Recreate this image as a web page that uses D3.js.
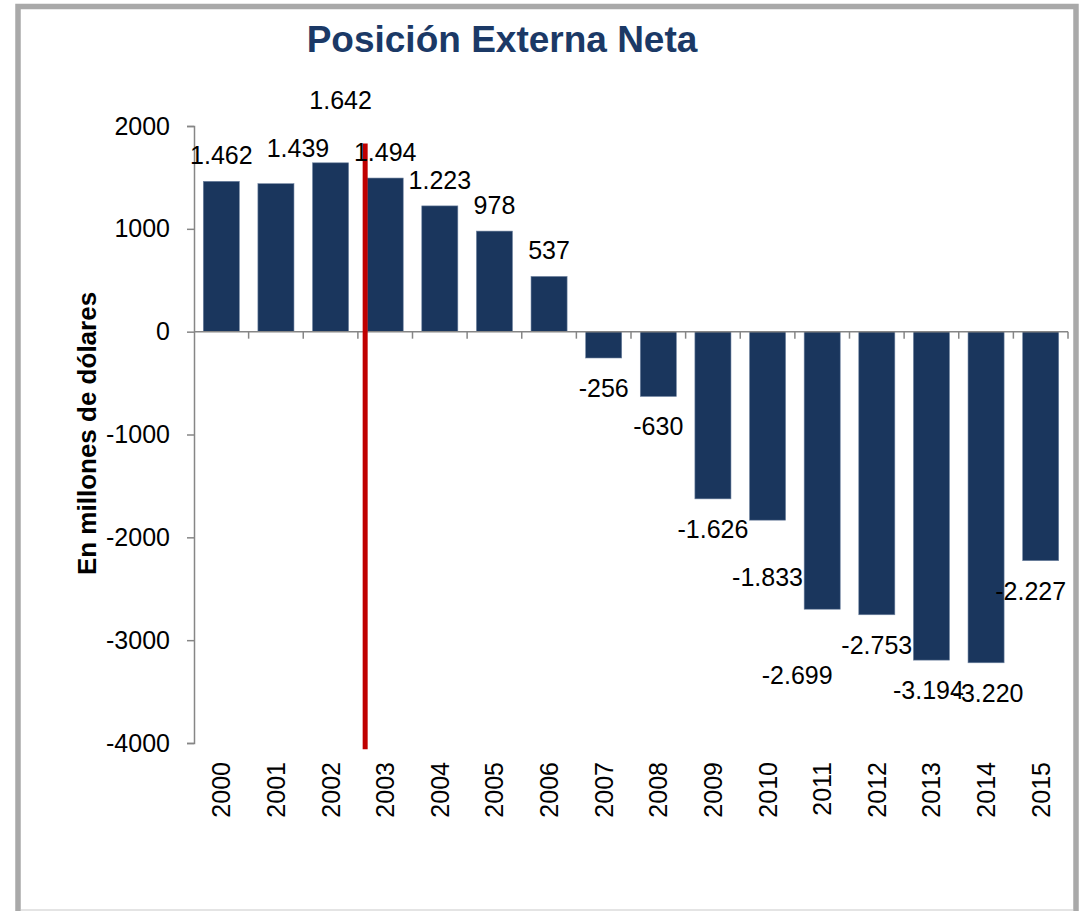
<!DOCTYPE html>
<html>
<head>
<meta charset="utf-8">
<script src="https://cdn.jsdelivr.net/npm/d3@7"></script>
<style>
  html, body { margin: 0; padding: 0; background: #fff; }
  text { font-family: "Liberation Sans", Arial, sans-serif; }
</style>
</head>
<body>
<div id="chart"></div>
<script>
// chart data
const years = ['2000', '2001', '2002', '2003', '2004', '2005', '2006', '2007',
  '2008', '2009', '2010', '2011', '2012', '2013', '2014', '2015'];
const values = [1462, 1439, 1642, 1494, 1223, 978, 537, -256,
  -630, -1626, -1833, -2699, -2753, -3194, -3220, -2227];
const yTicks = [2000, 1000, 0, -1000, -2000, -3000, -4000];

// labels that were dragged by hand in the original, [dx, dy] in px
const labelNudge = {
  '2001': [22, -10], '2002': [10, -37], '2010': [0, 27],
  '2011': [-25, 36], '2013': [-3, 0], '2014': [2, 0], '2015': [-10, 0]
};

const width = 1084, height = 911;
const plot = { left: 194, right: 1068, top: 126, bottom: 743 };
const barColor = '#1a365d';
const axisColor = '#868686';

const es = d3.formatLocale({ decimal: ',', thousands: '.', grouping: [3], currency: ['', ''], minus: '-' });
const fmtLabel = es.format(',d');
const fmtTick = es.format('d');

const svg = d3.select('#chart')
  .append('svg')
  .attr('width', width)
  .attr('height', height);

// frame around the chart
svg.append('rect')
  .attr('x', 18).attr('y', 6.5)
  .attr('width', 1058).attr('height', 1000)
  .attr('fill', 'none')
  .attr('stroke', '#a9a9a9')
  .attr('stroke-width', 5.5);
svg.append('line')
  .attr('x1', 21).attr('x2', 1073)
  .attr('y1', 910).attr('y2', 910)
  .attr('stroke', '#e4e4e4')
  .attr('stroke-width', 2);

const x = d3.scaleBand()
  .domain(years)
  .range([plot.left, plot.right])
  .paddingInner(0.34)
  .paddingOuter(0.17);

const y = d3.scaleLinear()
  .domain([-4000, 2000])
  .range([plot.bottom, plot.top]);

// title
svg.append('text')
  .attr('x', 502).attr('y', 52)
  .attr('text-anchor', 'middle')
  .attr('font-size', 37)
  .attr('font-weight', 'bold')
  .attr('fill', '#1b3966')
  .text('Posición Externa Neta');

// y axis
const yAxis = svg.append('g')
  .attr('transform', `translate(${plot.left},0)`)
  .call(d3.axisLeft(y).tickValues(yTicks).tickFormat(fmtTick).tickSize(7).tickPadding(17));
yAxis.select('.domain').attr('stroke', axisColor).attr('stroke-width', 1.5);
yAxis.selectAll('.tick line').attr('stroke', axisColor).attr('stroke-width', 1.5);
yAxis.selectAll('.tick text')
  .attr('font-size', 25)
  .attr('fill', '#000')
  .attr('font-family', '"Liberation Sans", Arial, sans-serif');

svg.append('text')
  .attr('transform', `translate(96,${(plot.top + plot.bottom) / 2 - 1}) rotate(-90)`)
  .attr('text-anchor', 'middle')
  .attr('font-size', 26)
  .attr('font-weight', 'bold')
  .attr('fill', '#000')
  .text('En millones de dólares');

// bars
svg.selectAll('rect.bar')
  .data(values)
  .enter()
  .append('rect')
  .attr('class', 'bar')
  .attr('x', (d, i) => x(years[i]))
  .attr('width', x.bandwidth())
  .attr('y', (d) => y(Math.max(0, d)))
  .attr('height', (d) => Math.abs(y(d) - y(0)))
  .attr('fill', barColor)
  .attr('stroke', '#6f83a0')
  .attr('stroke-width', 0.6);

// x axis at zero, ticks between categories
const step = x.step();
const bounds = d3.range(years.length + 1).map((i) => plot.left + i * step);
svg.append('line')
  .attr('x1', plot.left).attr('x2', plot.right)
  .attr('y1', y(0)).attr('y2', y(0))
  .attr('stroke', axisColor).attr('stroke-width', 1.5);
svg.selectAll('line.xtick')
  .data(bounds.slice(1))
  .enter()
  .append('line')
  .attr('class', 'xtick')
  .attr('x1', (d) => d).attr('x2', (d) => d)
  .attr('y1', y(0)).attr('y2', y(0) + 7)
  .attr('stroke', axisColor).attr('stroke-width', 1.5);

// year labels, rotated
svg.selectAll('text.year')
  .data(years)
  .enter()
  .append('text')
  .attr('class', 'year')
  .attr('transform', (d) => `translate(${x(d) + x.bandwidth() / 2 + 9},${plot.bottom + 19}) rotate(-90)`)
  .attr('text-anchor', 'end')
  .attr('font-size', 25)
  .attr('fill', '#000')
  .text((d) => d);

// red marker line
svg.append('line')
  .attr('x1', x('2003') - 2).attr('x2', x('2003') - 2)
  .attr('y1', y(1830)).attr('y2', y(-4060))
  .attr('stroke', '#c00000')
  .attr('stroke-width', 5);

// value labels
svg.selectAll('text.value')
  .data(values)
  .enter()
  .append('text')
  .attr('class', 'value')
  .attr('x', (d, i) => x(years[i]) + x.bandwidth() / 2 + (labelNudge[years[i]] || [0, 0])[0])
  .attr('y', (d, i) => (d >= 0 ? y(d) - 17 : y(d) + 39) + (labelNudge[years[i]] || [0, 0])[1])
  .attr('text-anchor', 'middle')
  .attr('font-size', 25)
  .attr('fill', '#000')
  .text((d) => fmtLabel(d));
</script>
</body>
</html>
